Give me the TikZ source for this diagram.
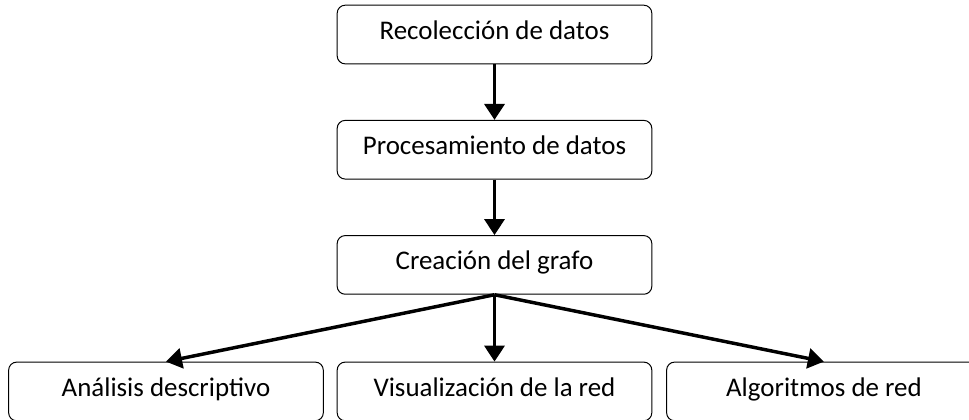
\documentclass[tikz,border=0pt]{standalone}
\usepackage{fontspec}
\setmainfont{Carlito}
\usepackage{tikz}
\usetikzlibrary{positioning,arrows.meta}

\begin{document}
\begin{tikzpicture}[-{Triangle[length=12pt,width=15pt]},line width=2.6pt,node distance=86.4pt]
\tikzstyle{etapa}=[rectangle,rounded corners=6pt,draw=black,line width=0.75pt,fill=white,text=black,minimum width=236pt,minimum height=44pt,text height=0.8em,text depth=0.1em,font=\fontsize{20.2}{24}\selectfont]
\useasboundingbox (-370.9pt,25.9pt) rectangle (355.9pt,-289.1pt);
\node[etapa] (rec)  [] {Recolección de datos};
\node[etapa] (proc) [below of=rec] {Procesamiento de datos};
\node[etapa] (graf) [below of=proc] {Creación del grafo};
\node[etapa] (vis)  [node distance=94.9pt,below of=graf] {Visualización de la red};
\node[etapa] (ana)  [node distance=246.4pt,left of=vis] {Análisis descriptivo};
\node[etapa] (alg)  [node distance=247.1pt,right of=vis] {Algoritmos de red};
\path (rec) edge (proc);
\path (proc) edge (graf);
\path (graf) edge (vis);
\path (graf.south) edge (ana.north);
\path (graf.south) edge (alg.north);
\end{tikzpicture}
\end{document}
